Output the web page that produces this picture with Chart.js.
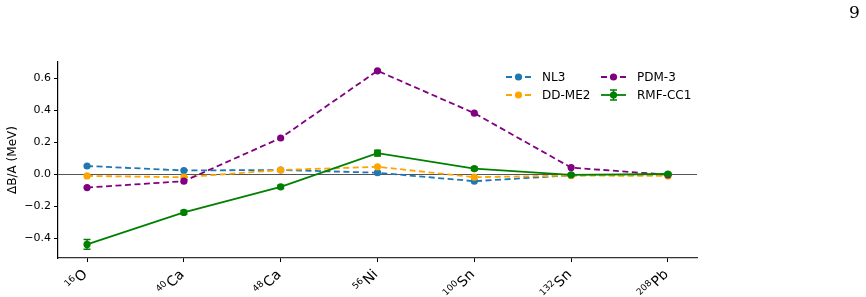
<!DOCTYPE html>
<html>
<head>
<meta charset="utf-8">
<script src="https://cdn.jsdelivr.net/npm/chart.js@4"></script>
<style>
  body { margin: 0; background: #fff; }
  #wrap { position: relative; width: 866px; height: 297px; font-family: "DejaVu Sans", sans-serif; }
  #page { position: absolute; left: 849px; top: 2px; font-family: "DejaVu Serif", serif; font-size: 17px; }
  .leg { position: absolute; font-size: 12px; color: #000; display: flex; align-items: center; }
  .leg svg { margin-right: 10px; }
</style>
</head>
<body>
<div id="wrap">
  <canvas id="grafico"></canvas>
  <div id="page">9</div>
  <div id="legend"></div>
</div>
<script>
var masas = ['16', '40', '48', '56', '100', '132', '208'];
var elementos = ['O', 'Ca', 'Ca', 'Ni', 'Sn', 'Sn', 'Pb'];
var nl3    = [0.050, 0.022, 0.025, 0.008, -0.045, -0.008, -0.005];
var ddme2  = [-0.012, -0.020, 0.025, 0.045, -0.020, -0.010, -0.012];
var pdm3   = [-0.085, -0.045, 0.225, 0.645, 0.380, 0.040, -0.005];
var rmfcc1 = [-0.440, -0.240, -0.080, 0.130, 0.033, -0.005, 0.000];
var rmfErr = [0.030, 0.012, 0.010, 0.018, 0.010, 0.006, 0.006];
var yTicks = [-0.4, -0.2, 0.0, 0.2, 0.4, 0.6];

var colores = { nl3: '#1f77b4', ddme2: '#ffa500', pdm3: '#800080', rmf: '#008000' };

function puntos(arr) {
	return arr.map(function(v, i) { return { x: i, y: v }; });
}

function serie(label, arr, color, dashed, orden) {
	return {
		label: label,
		data: puntos(arr),
		borderColor: color,
		backgroundColor: color,
		borderWidth: 1.8,
		borderDash: dashed ? [6, 3.5] : [],
		pointRadius: 3.6,
		pointHoverRadius: 3.6,
		pointBorderWidth: 0,
		tension: 0,
		order: orden
	};
}

var barrasError = {
	id: 'barrasError',
	afterDatasetsDraw: function(chart) {
		var ctx = chart.ctx, xs = chart.scales.x, ys = chart.scales.y;
		ctx.save();
		ctx.strokeStyle = colores.rmf;
		ctx.lineWidth = 1.5;
		rmfErr.forEach(function(e, i) {
			var x = xs.getPixelForValue(i);
			var y1 = ys.getPixelForValue(rmfcc1[i] - e);
			var y2 = ys.getPixelForValue(rmfcc1[i] + e);
			ctx.beginPath();
			ctx.moveTo(x, y1); ctx.lineTo(x, y2);
			ctx.moveTo(x - 3.5, y1); ctx.lineTo(x + 3.5, y1);
			ctx.moveTo(x - 3.5, y2); ctx.lineTo(x + 3.5, y2);
			ctx.stroke();
		});
		ctx.restore();
	}
};

// etiquetas de nucleos con superindice, giradas 45 grados
var etiquetasX = {
	id: 'etiquetasX',
	afterDraw: function(chart) {
		var ctx = chart.ctx, xs = chart.scales.x;
		ctx.save();
		ctx.fillStyle = '#000';
		ctx.textBaseline = 'alphabetic';
		masas.forEach(function(m, i) {
			var x = xs.getPixelForValue(i);
			ctx.save();
			ctx.translate(x - 6, xs.top + 10);
			ctx.rotate(-Math.PI / 4);
			ctx.font = '14px "DejaVu Sans"';
			var wE = ctx.measureText(elementos[i]).width;
			ctx.font = '9px "DejaVu Sans"';
			var wS = ctx.measureText(m).width;
			ctx.font = '14px "DejaVu Sans"';
			ctx.fillText(elementos[i], -wE, 10);
			ctx.font = '9px "DejaVu Sans"';
			ctx.fillText(m, -wE - wS - 0.5, 4);
			ctx.restore();
		});
		ctx.restore();
	}
};

var ctx = document.getElementById('grafico');
var grafico = new Chart(ctx, {
	type: 'line',
	data: {
		datasets: [
			serie('NL3', nl3, colores.nl3, true, 4),
			serie('DD-ME2', ddme2, colores.ddme2, true, 3),
			serie('PDM-3', pdm3, colores.pdm3, true, 2),
			serie('RMF-CC1', rmfcc1, colores.rmf, false, 1)
		]
	},
	options: {
		responsive: true,
		maintainAspectRatio: false,
		animation: false,
		layout: { padding: { left: 0, top: 62, right: 169, bottom: 0 } },
		plugins: { legend: { display: false }, tooltip: { enabled: false } },
		scales: {
			x: {
				type: 'linear',
				min: -0.3,
				max: 6.3,
				afterBuildTicks: function(s) { s.ticks = masas.map(function(n, i) { return { value: i }; }); },
				afterFit: function(s) { s.height = 39; },
				border: { color: '#333', width: 1.2 },
				grid: { drawOnChartArea: false, color: '#000', tickColor: '#000', tickLength: 4 },
				ticks: {
					minRotation: 45, maxRotation: 45, autoSkip: false,
					color: 'rgba(0,0,0,0)',
					font: { family: 'DejaVu Sans', size: 12 },
					callback: function(v) { return masas[v] + elementos[v]; }
				}
			},
			y: {
				min: -0.525,
				max: 0.7,
				afterBuildTicks: function(s) { s.ticks = yTicks.map(function(v) { return { value: v }; }); },
				afterFit: function(s) { s.width = 58; },
				border: { color: '#000', width: 1.2 },
				grid: {
					color: function(c) { return c.tick && Math.abs(c.tick.value) < 1e-9 ? '#555' : 'rgba(0,0,0,0)'; },
					lineWidth: 1,
					tickColor: '#000',
					tickLength: 4
				},
				title: {
					display: true,
					text: 'ΔB/A (MeV)',
					color: '#000',
					font: { family: 'DejaVu Sans', size: 12 },
					padding: { top: 6, bottom: 0 }
				},
				ticks: {
					color: '#000',
					padding: 3,
					font: { family: 'DejaVu Sans', size: 11 },
					callback: function(v) { return v.toFixed(1).replace('-', '−'); }
				}
			}
		}
	},
	plugins: [barrasError, etiquetasX]
});

// leyenda en dos columnas dentro del area
var leyenda = [
	{ label: 'NL3', color: colores.nl3, dash: true, x: 505, y: 77 },
	{ label: 'DD-ME2', color: colores.ddme2, dash: true, x: 505, y: 95 },
	{ label: 'PDM-3', color: colores.pdm3, dash: true, x: 600, y: 77 },
	{ label: 'RMF-CC1', color: colores.rmf, dash: false, x: 600, y: 95 }
];
var cont = document.getElementById('legend');
leyenda.forEach(function(l) {
	var d = document.createElement('div');
	d.className = 'leg';
	d.style.left = l.x + 'px';
	d.style.top = (l.y - 8) + 'px';
	d.style.height = '16px';
	var linea = l.dash
		? '<line x1="1" y1="8" x2="26" y2="8" stroke="' + l.color + '" stroke-width="1.8" stroke-dasharray="6 3.5"/>'
		: '<line x1="1" y1="8" x2="26" y2="8" stroke="' + l.color + '" stroke-width="1.8"/>' +
		  '<line x1="13.5" y1="3" x2="13.5" y2="13" stroke="' + l.color + '" stroke-width="1.5"/>' +
		  '<line x1="10" y1="3" x2="17" y2="3" stroke="' + l.color + '" stroke-width="1.5"/>' +
		  '<line x1="10" y1="13" x2="17" y2="13" stroke="' + l.color + '" stroke-width="1.5"/>';
	d.innerHTML = '<svg width="27" height="16">' + linea +
		'<circle cx="13.5" cy="8" r="3.6" fill="' + l.color + '"/></svg><span>' + l.label + '</span>';
	cont.appendChild(d);
});
</script>
</body>
</html>
